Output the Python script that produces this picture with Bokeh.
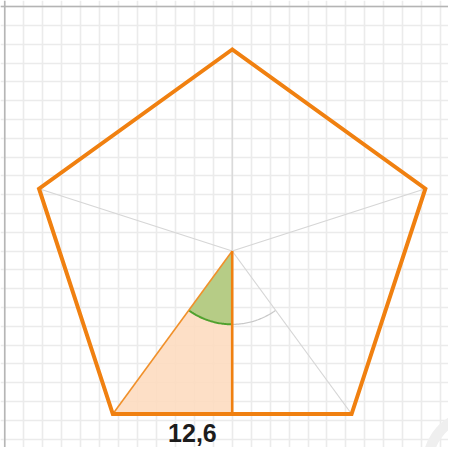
import numpy as np
from bokeh.plotting import figure
from bokeh.models import Range1d, Grid, SingleIntervalTicker, Span
from bokeh.core.properties import value
from bokeh.embed import file_html
from bokeh.resources import INLINE

# ---- data ----
side_length = 12.6
n_sides = 5
side_label = ["12,6"]
angle_radius = 3.9          # radius of the marked angle arcs (grid units)

# ---- geometry derived from data ----
R = side_length / (2 * np.sin(np.pi / n_sides))
apothem = R * np.cos(np.pi / n_sides)
ang = np.deg2rad(90 + 360.0 / n_sides * np.arange(n_sides))
vx = R * np.cos(ang)
vy = R * np.sin(ang)
BL = 2  # bottom-left vertex index
half_angle = 180.0 / n_sides

# ---- layout (px per unit and placement) ----
sx, sy = 18.95, 18.8
cx_px, cy_px = 231.7, 250.5
W, H = 448, 447
x0 = (0 - cx_px) / sx
x1 = x0 + W / sx
y1 = (cy_px - 0) / sy
y0 = y1 - H / sy

p = figure(width=W, height=H, x_range=Range1d(x0, x1), y_range=Range1d(y0, y1),
           output_backend="svg", toolbar_location=None,
           x_axis_type=None, y_axis_type=None, min_border=0,
           outline_line_color=None, background_fill_color="white",
           border_fill_color="white")
p.center = []
for dim in (0, 1):
    p.add_layout(Grid(dimension=dim, ticker=SingleIntervalTicker(interval=1),
                      grid_line_color="#ebebeb", grid_line_width=1.6))

# faint watermark ring (bottom right)
p.annular_wedge(x=[12.9], y=[-11.3], inner_radius=2.3, outer_radius=2.85,
                start_angle=[np.deg2rad(100)], end_angle=[np.deg2rad(190)],
                fill_color="#efefef", line_color=None)

# frame (top and left)
p.add_layout(Span(location=-12, dimension="height", line_color="#b4b4b4", line_width=1.5))
p.add_layout(Span(location=13, dimension="width", line_color="#b4b4b4", line_width=1.5))

# peach triangle: center, bottom-left vertex, bottom midpoint
p.patch(x=[0, vx[BL], 0], y=[0, vy[BL], -apothem],
        fill_color="#fddcc0", fill_alpha=0.9, line_color=None)

# green angle sector
t = np.deg2rad(np.linspace(-90, -90 - half_angle, 40))
p.patch(x=np.concatenate([[0], angle_radius * np.cos(t)]),
        y=np.concatenate([[0], angle_radius * np.sin(t)]),
        fill_color="#b6cc86", line_color=None)
p.line(x=angle_radius * np.cos(t), y=angle_radius * np.sin(t),
       line_color="#4fa12e", line_width=2)

# gray angle arc on other side
t2 = np.deg2rad(np.linspace(-90, -90 + half_angle, 40))
p.line(x=angle_radius * np.cos(t2), y=angle_radius * np.sin(t2),
       line_color="#c8c8c8", line_width=1.3)

# gray spokes from center to vertices
spokes = [i for i in range(n_sides) if i != BL]
p.segment(x0=[0] * len(spokes), y0=[0] * len(spokes),
          x1=[vx[i] for i in spokes], y1=[vy[i] for i in spokes],
          line_color="#d6d6d6", line_width=1.2)

# orange triangle edges
p.line(x=[0, vx[BL]], y=[0, vy[BL]], line_color="#f0902a", line_width=1.6)
p.line(x=[0, 0], y=[0, -apothem], line_color="#f08010", line_width=2.6)

# pentagon outline
p.patch(x=list(vx), y=list(vy), fill_color=None, line_color="#f08010",
        line_width=4, line_join="miter")

# side label under the bottom-left half side
p.text(x=[vx[BL] / 2 + 1.05], y=[vy[BL] - 1.0], text=side_label,
       text_font=value("Liberation Sans"), text_font_style="bold",
       text_font_size="25px", text_align="center", text_baseline="middle",
       text_color="#1c1c1c")

open("out.html", "w").write(file_html(p, INLINE))
